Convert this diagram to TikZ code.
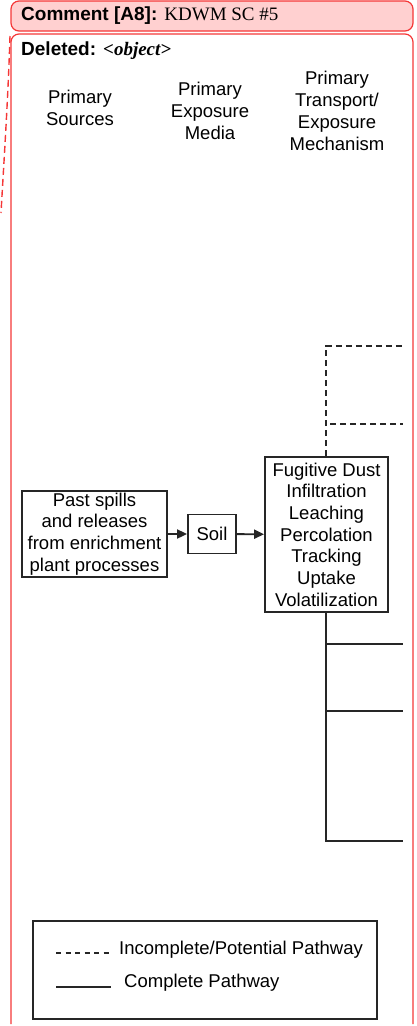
\documentclass[tikz,border=0pt]{standalone}
\usepackage{fontspec}
\setmainfont{Liberation Sans}
\newfontfamily\timesfont{Liberation Serif}
\usepackage{tikz}
\usetikzlibrary{arrows.meta,positioning,calc}
\definecolor{balloonRed}{RGB}{245,55,55}
\definecolor{balloonPink}{RGB}{255,208,208}
\tikzset{
  headtext/.style={
    align=center, font=\fontsize{18.5}{21.8}\selectfont,
    inner sep=0pt, text=black
  },
  pathbox/.style={
    rectangle, draw=black!85, line width=1.8pt,
    align=center, font=\fontsize{18.5}{21.7}\selectfont,
    inner sep=1pt, text=black
  },
  balloon/.style={draw=balloonRed, line width=1.2pt, rounded corners=8pt},
  myarr/.style={-{Triangle[length=10pt,width=9pt]}, line width=1.8pt, black!85},
  solidpath/.style={line width=1.8pt, black!85},
  dashpath/.style={line width=1.8pt, black!85, dash pattern=on 6pt off 4pt},
}

\begin{document}
\begin{tikzpicture}[x=1pt,y=-1pt]
  \useasboundingbox (0,0) rectangle (416,1026);

  % Balloons
  \draw[balloon, fill=balloonPink] (11,1) rectangle (413,31);
  \node[anchor=west, inner sep=0pt, font=\fontsize{19}{22}\selectfont] (cmt) at (21,16)
    {\textbf{Comment [A8]:} {\timesfont KDWM SC \#5}};
  \draw[balloon] (11,1024) -- (11,34) -- (413,34) -- (413,1024);
  \node[anchor=west, inner sep=0pt, font=\fontsize{19}{22}\selectfont] (del) at (21,51)
    {\textbf{Deleted:} {\timesfont\bfseries\itshape <object>}};
  \draw[balloonRed, line width=1.4pt, dash pattern=on 7pt off 4pt]
    (10,36) .. controls (8,100) and (4,160) .. (1,213);

  % Column headings
  \node[headtext] (hsrc) at (80,108)  {Primary\\Sources};
  \node[headtext] (hmed) at (210,111) {Primary\\Exposure\\Media};
  \node[headtext] (hmec) at (337,111) {Primary\\Transport/\\Exposure\\Mechanism};

  % Boxes
  \node[pathbox, minimum width=145pt, minimum height=86pt] (src) at (94.5,534)
    {Past spills\\and releases\\from enrichment\\plant processes};
  \node[pathbox, minimum width=48pt, minimum height=39pt] (soil) at (212,534) {Soil};
  \node[pathbox, minimum width=123pt, minimum height=155pt] (mech) at (326.5,534.5)
    {Fugitive Dust\\Infiltration\\Leaching\\Percolation\\Tracking\\Uptake\\Volatilization};

  % Arrows
  \draw[myarr] (src) -- (soil);
  \draw[myarr] (soil) -- (mech);

  % Pathways leaving the mechanism box
  \coordinate (dtop) at (326,346);
  \coordinate (dmid) at (326,424);
  \coordinate (stop) at (326,644);
  \coordinate (smid) at (326,711);
  \coordinate (sbot) at (326,841);
  \draw[dashpath] (mech.north -| dtop) -- (dtop) -- (dtop -| 403,0);
  \draw[dashpath] ($(dmid)+(4,0)$) -- (dmid -| 403,0);
  \draw[solidpath] (mech.south -| sbot) -- (sbot) -- (sbot -| 403,0);
  \draw[solidpath] (stop) -- (stop -| 403,0);
  \draw[solidpath] (smid) -- (smid -| 403,0);

  % Legend
  \node[draw=black!85, line width=1.8pt, minimum width=344pt, minimum height=98pt,
        inner sep=0pt] (legend) at (205,970) {};
  \coordinate (ld1) at (56,953);
  \coordinate (ls1) at (56,987);
  \draw[line width=1.3pt, black!85, dash pattern=on 5pt off 4.5pt] (ld1) -- ++(55,0);
  \draw[solidpath, line width=1.3pt] (ls1) -- ++(55,0);
  \node[anchor=west, headtext] (ltxt1) at (119,950) {Incomplete/Potential Pathway};
  \node[anchor=west, headtext] (ltxt2) at (124,983) {Complete Pathway};
\end{tikzpicture}
\end{document}
